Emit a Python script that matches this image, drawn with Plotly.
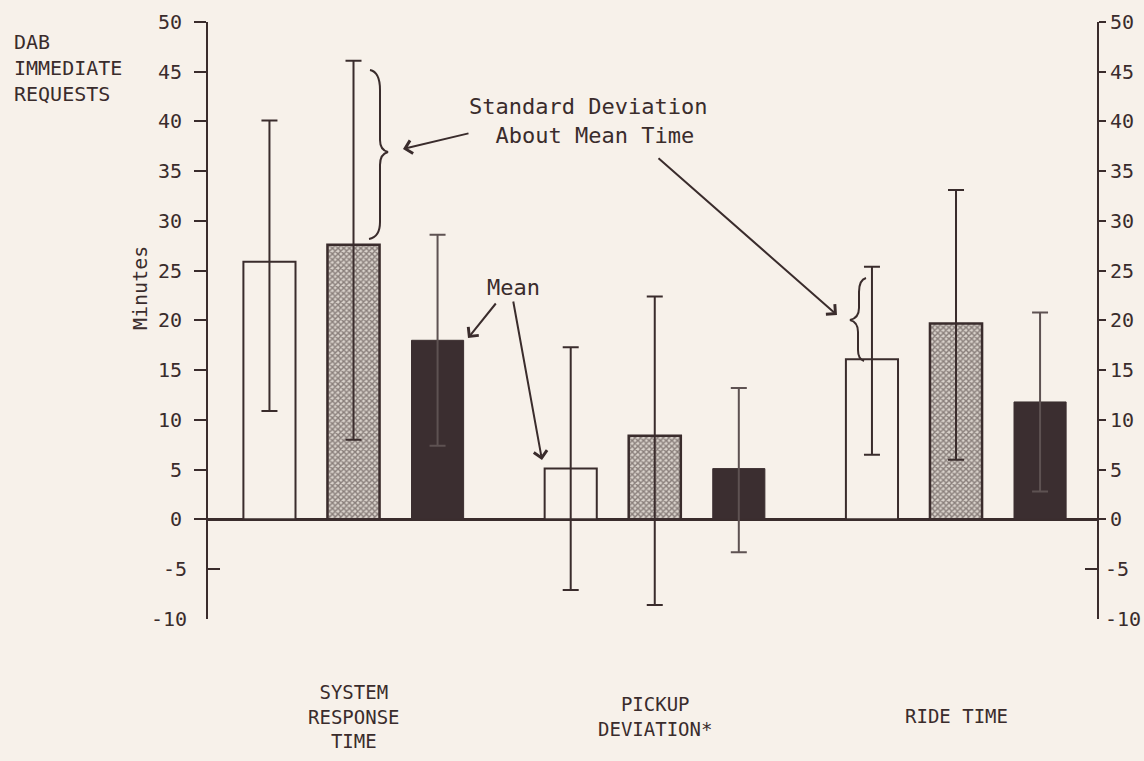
import plotly.graph_objects as go

# ---------------- data ----------------
categories = ["SYSTEM<br>RESPONSE<br>TIME", "PICKUP<br>DEVIATION*", "RIDE TIME"]
cat_pos = [0, 1, 2]

mean_a = [25.9, 5.1, 16.1]      # open bars
upper_a = [40.1, 17.3, 25.4]
lower_a = [10.9, -7.1, 6.5]

mean_b = [27.6, 8.4, 19.7]      # stippled bars
upper_b = [46.1, 22.4, 33.1]
lower_b = [8.0, -8.6, 6.0]

mean_c = [18.0, 5.1, 11.8]      # solid bars
upper_c = [28.6, 13.2, 20.8]
lower_c = [7.4, -3.3, 2.8]

pos_ticks = [0, 5, 10, 15, 20, 25, 30, 35, 40, 45, 50]
pos_tick_text = ["0", "5", "10", "15", "20", "25", "30", "35", "40", "45", "50"]
neg_ticks = [-10, -5, 0]
neg_tick_text = ["-10", "-5", ""]

# ---------------- style ----------------
BG = "#f7f1ea"
INK = "#3a2c2c"
FONT = "DejaVu Sans Mono"
W, H = 1144, 761
L, R, T, B = 208, 47, 22, 142
PW, PH = W - L - R, H - T - B
X0, X1 = -0.483, 2.468
Y0, Y1 = -10.02, 50


def px_x(px):
    return X0 + (px - L) * (X1 - X0) / PW


def px_y(py):
    return Y1 - (py - T) * (Y1 - Y0) / PH


def pp_x(px):
    return (px - L) / PW


def pp_y(py):
    return 1 - (py - T) / PH


def err(mean, up, lo):
    return dict(type="data", symmetric=False,
                array=[u - m for u, m in zip(up, mean)],
                arrayminus=[m - l for m, l in zip(mean, lo)],
                thickness=2, width=8)


fig = go.Figure()
fig.add_trace(go.Bar(x=cat_pos, y=mean_a, name="A",
                     marker=dict(color=BG, line=dict(color=INK, width=2)),
                     error_y=dict(**err(mean_a, upper_a, lower_a), color=INK)))
fig.add_trace(go.Bar(x=cat_pos, y=mean_b, name="B",
                     marker=dict(color=BG, line=dict(color=INK, width=2.5),
                                 pattern=dict(shape="x", size=4, solidity=0.6,
                                              fgcolor="#3a2c2c", bgcolor="#d9d2cb")),
                     error_y=dict(**err(mean_b, upper_b, lower_b), color=INK)))
fig.add_trace(go.Bar(x=cat_pos, y=mean_c, name="C",
                     marker=dict(color="#3b2e30", line=dict(color="#3b2e30", width=1)),
                     error_y=dict(**err(mean_c, upper_c, lower_c), color="#5e5252")))

# invisible traces to carry the extra axes
for ax in ["y2", "y3", "y4"]:
    fig.add_trace(go.Scatter(x=[X0], y=[0], yaxis=ax, mode="markers",
                             marker=dict(opacity=0), showlegend=False, hoverinfo="skip"))

tickfont = dict(family=FONT, size=20, color=INK)
common = dict(range=[Y0, Y1], showgrid=False, tickwidth=2,
              tickcolor=INK, tickfont=tickfont, automargin=False)
fig.update_layout(
    width=W, height=H,
    margin=dict(l=L, r=R, t=T, b=B, autoexpand=False),
    paper_bgcolor=BG, plot_bgcolor=BG,
    barmode="group", bargap=0.163, bargroupgap=0.38,
    showlegend=False,
    font=dict(family=FONT, color=INK),
    xaxis=dict(range=[X0, X1], showticklabels=False, showgrid=False, automargin=False,
               zeroline=False, showline=False, ticks=""),
    yaxis=dict(**common, tickvals=pos_ticks, ticktext=pos_tick_text,
               showline=True, linecolor=INK, linewidth=2,
               ticks="outside", ticklen=12, ticklabelstandoff=8,
               zeroline=True, zerolinecolor=INK, zerolinewidth=2.5),
    yaxis2=dict(**common, tickvals=pos_ticks, ticktext=pos_tick_text,
                overlaying="y", side="right", zeroline=False,
                showline=True, linecolor=INK, linewidth=2,
                ticks="outside", ticklen=7, ticklabelstandoff=0),
    yaxis3=dict(**common, tickvals=neg_ticks, ticktext=neg_tick_text,
                overlaying="y", side="left", showline=False, zeroline=False,
                ticks="inside", ticklen=12, ticklabelstandoff=20),
    yaxis4=dict(**common, tickvals=neg_ticks, ticktext=neg_tick_text,
                overlaying="y", side="right", showline=False, zeroline=False,
                ticks="inside", ticklen=12, ticklabelstandoff=7),
)

anns = []
# category labels
for p, c in zip(cat_pos, categories):
    anns.append(dict(x=p, y=pp_y(716), xref="x", yref="paper", text=c, showarrow=False,
                     font=dict(family=FONT, size=19, color=INK), align="center",
                     xanchor="center", yanchor="middle"))
# left header
anns.append(dict(x=pp_x(12), y=pp_y(28), xref="paper", yref="paper", xanchor="left",
                 yanchor="top", align="left", showarrow=False,
                 text="DAB<br>IMMEDIATE<br>REQUESTS",
                 font=dict(family=FONT, size=20, color=INK)))
# Minutes
anns.append(dict(x=pp_x(140), y=pp_y(288), xref="paper", yref="paper", showarrow=False,
                 text="Minutes", textangle=-90, xanchor="center", yanchor="middle",
                 font=dict(family=FONT, size=20, color=INK)))
# SD text
anns.append(dict(x=px_x(588), y=px_y(121), xref="x", yref="y", showarrow=False,
                 text="Standard Deviation<br> About Mean Time", align="center",
                 font=dict(family=FONT, size=22, color=INK)))
# Mean text
anns.append(dict(x=px_x(513), y=px_y(287), xref="x", yref="y", showarrow=False,
                 text="Mean", font=dict(family=FONT, size=22, color=INK)))

arrow = dict(xref="x", yref="y", axref="x", ayref="y", showarrow=True, text="",
             arrowhead=4, arrowsize=1.3, arrowwidth=2, arrowcolor=INK)
for (tx, ty, hx, hy) in [(470, 133, 403, 149), (657, 157, 837, 315),
                         (497, 302, 468, 338), (513, 300, 542, 460)]:
    anns.append(dict(**arrow, x=px_x(hx), y=px_y(hy), ax=px_x(tx), ay=px_y(ty)))
fig.update_layout(annotations=anns)


def brace_path(pts):
    s = ""
    for cmd, *xy in pts:
        coords = []
        for j in range(0, len(xy), 2):
            coords.append(f"{px_x(xy[j]):.5f},{px_y(xy[j + 1]):.4f}")
        s += cmd + " ".join(coords) + " "
    return s.strip()


b1 = brace_path([("M", 370, 70), ("Q", 380, 72, 380, 90), ("L", 380, 140),
                 ("Q", 380, 150, 388, 152), ("Q", 380, 154, 380, 165), ("L", 380, 222),
                 ("Q", 380, 237, 369, 239)])
b3 = brace_path([("M", 866, 278), ("Q", 859, 280, 859, 292), ("L", 859, 308),
                 ("Q", 859, 318, 850, 320), ("Q", 858, 322, 858, 332), ("L", 858, 350),
                 ("Q", 858, 359, 864, 361)])
fig.update_layout(shapes=[
    dict(type="path", path=b1, xref="x", yref="y", line=dict(color=INK, width=2)),
    dict(type="path", path=b3, xref="x", yref="y", line=dict(color=INK, width=2)),
])

fig.write_html("out.html", config={"displayModeBar": False},
               post_script="document.body.style.margin='0';document.body.style.background='%s';" % BG)
